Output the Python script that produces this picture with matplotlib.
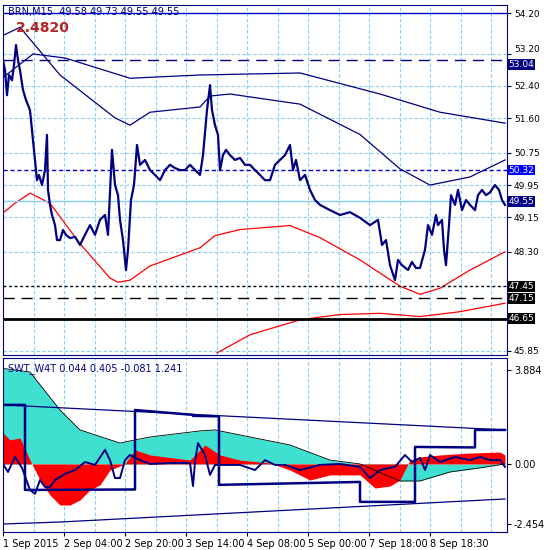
import matplotlib.pyplot as plt
import numpy as np

# bar position (chart pixels) and price
px = [3, 5, 7, 9, 12, 14, 16, 18, 20, 23, 26, 28, 30, 33, 35, 37, 39, 42, 45, 47, 48, 50, 52, 55, 57, 60,
      63, 66, 70, 75, 80, 85, 90, 95, 100, 105, 108, 112, 115, 118, 120, 123, 126, 128, 131, 134, 137, 140,
      145, 150, 155, 160, 165, 170, 175, 180, 185, 190, 200, 203, 207, 210, 212, 215, 218, 220, 223, 226,
      230, 235, 240, 245, 250, 255, 260, 265, 270, 275, 280, 285, 290, 293, 296, 300, 305, 310, 315, 320,
      330, 340, 350, 360, 370, 378, 382, 386, 390, 395, 398, 402, 408, 412, 416, 420, 425, 428, 432, 436,
      438, 442, 444, 446, 449, 451, 455, 458, 462, 466, 470, 475, 478, 482, 486, 490, 495, 499, 502, 505]
price = [53.04, 52.79, 52.17, 52.67, 52.54, 52.92, 53.41, 53.04, 52.79, 52.30, 52.05, 51.93, 51.80, 51.06,
         50.57, 50.07, 50.20, 49.95, 50.32, 51.19, 49.83, 49.46, 49.21, 48.96, 48.59, 48.59, 48.84, 48.72,
         48.64, 48.67, 48.47, 48.72, 48.96, 48.72, 49.09, 49.21, 48.72, 50.82, 49.95, 49.70, 49.09, 48.59,
         47.85, 48.35, 49.58, 49.95, 50.94, 50.45, 50.57, 50.32, 50.20, 50.07, 50.32, 50.45, 50.37, 50.32,
         50.32, 50.45, 50.20, 50.69, 51.80, 52.42, 51.80, 51.43, 51.19, 50.32, 50.69, 50.82, 50.69, 50.57,
         50.62, 50.45, 50.45, 50.32, 50.20, 50.07, 50.07, 50.45, 50.57, 50.69, 50.94, 50.32, 50.57, 50.07,
         50.20, 49.83, 49.58, 49.46, 49.33, 49.21, 49.28, 49.14, 48.96, 49.09, 48.47, 48.59, 47.97, 47.60,
         48.10, 47.97, 47.85, 48.05, 47.90, 47.90, 48.35, 48.96, 48.72, 49.21, 48.96, 49.09, 48.35, 47.97,
         48.96, 49.70, 49.46, 49.83, 49.33, 49.58, 49.46, 49.33, 49.70, 49.83, 49.70, 49.77, 49.95, 49.83,
         49.58, 49.46]

# envelope lines (navy / red)
envA_x = [0, 20, 60, 115, 130, 150, 200, 210, 230, 300, 360, 400, 430, 470, 505]
envA = [53.61, 53.85, 52.67, 51.61, 51.43, 51.75, 51.88, 52.15, 52.20, 51.95, 51.20, 50.35, 49.95, 50.15, 50.57]
envB_x = [0, 33, 65, 130, 200, 300, 380, 440, 505]
envB = [52.55, 53.19, 53.09, 52.59, 52.67, 52.72, 52.20, 51.75, 51.48]
redA_x = [0, 15, 30, 50, 80, 110, 118, 130, 150, 200, 215, 240, 290, 320, 360, 400, 420, 440, 470, 505]
redA = [49.2, 49.5, 49.75, 49.5, 48.5, 47.65, 47.55, 47.6, 47.95, 48.4, 48.7, 48.85, 48.95, 48.65, 48.1, 47.45,
        47.25, 47.4, 47.85, 48.3]
redB_x = [217, 250, 300, 340, 380, 420, 460, 505]
redB = [45.80, 46.25, 46.62, 46.75, 46.78, 46.70, 46.82, 47.03]

levels = {'53.04': 53.04, '50.32': 50.32, '49.55': 49.55, '47.45': 47.45, '47.15': 47.15, '46.65': 46.65}
price_ticks = [54.20, 53.20, 52.40, 51.60, 50.75, 49.95, 49.15, 48.30, 47.45, 46.65, 45.85]
price_tick_labels = ['54.20', '53.20', '52.40', '51.60', '50.75', '49.95', '49.15', '48.30', '', '', '45.85']

# indicator
trend_x = [0, 30, 60, 80, 120, 135, 150, 200, 215, 250, 290, 330, 360, 400, 420, 450, 480, 505]
trend = [3.95, 3.78, 2.22, 1.40, 0.86, 0.99, 1.11, 1.36, 1.40, 1.11, 0.78, 0.16, 0.0, -0.70, -0.70, -0.33, -0.16, 0.0]
red_x = [0, 10, 20, 30, 40, 50, 60, 70, 80, 90, 100, 110, 125, 135, 150, 190, 205, 220, 240, 270, 290, 310, 330,
         360, 375, 390, 400, 410, 420, 440, 470, 500, 505]
red = [1.40, 0.99, 1.07, 0.16, -0.66, -1.28, -1.69, -1.69, -1.48, -1.07, -0.86, -0.25, 0.0, 0.58, 0.37, 0.16,
       0.78, 0.37, 0.16, 0.04, -0.25, -0.66, -0.45, -0.45, -0.99, -0.91, -0.66, 0.16, 0.29, 0.37, 0.45, 0.49, 0.37]
upper_x = [3, 505]
upper = [2.43, 1.40]
lower_x = [3, 60, 505]
lower = [-2.47, -2.39, -1.44]
step_x = [3, 25, 25, 135, 135, 193, 193, 219, 219, 360, 360, 415, 415, 475, 475, 505]
step = [2.43, 2.43, -1.07, -1.05, 2.22, 2.02, 1.98, 1.96, -0.86, -0.74, -1.56, -1.56, 0.70, 0.68, 1.40, 1.40]
osc_x = [3, 8, 15, 22, 30, 35, 40, 45, 50, 55, 65, 75, 85, 95, 105, 110, 115, 120, 125, 130, 140, 150, 170, 190,
         193, 195, 198, 205, 210, 215, 240, 255, 265, 275, 285, 300, 320, 340, 360, 370, 380, 395, 405, 412, 420,
         425, 430, 440, 455, 470, 480, 490, 500, 505]
osc = [0.0, -0.33, 0.29, -0.16, -1.07, -1.23, -0.66, -0.95, -0.95, -0.66, -0.41, -0.25, 0.08, -0.04, 0.58, 0.16,
       -0.58, -0.58, 0.16, 0.37, 0.16, 0.0, 0.04, 0.04, -0.91, 0.08, 0.86, 0.37, -0.45, -0.04, -0.04, -0.25, 0.16,
       -0.04, -0.04, -0.25, -0.04, 0.0, -0.12, -0.58, -0.25, -0.12, 0.37, 0.08, 0.25, -0.25, 0.37, 0.08, 0.29, 0.16,
       0.29, 0.16, 0.16, -0.12]

dates = ['1 Sep 2015', '2 Sep 04:00', '2 Sep 20:00', '3 Sep 14:00', '4 Sep 08:00', '5 Sep 00:00',
         '7 Sep 18:00', '8 Sep 18:30']

NAVY = '#000080'
GRID = '#87CEFA'
W, H = 550, 550

fig = plt.figure(figsize=(5.5, 5.5), dpi=100)


def box(x0, y0, x1, y1):
    return [x0 / W, 1 - y1 / H, (x1 - x0) / W, (y1 - y0) / H]


vgrid = np.arange(3, 505, 30.5)

ax = fig.add_axes(box(3, 5, 507, 355))
ax.set_xlim(3, 507)
ax.set_ylim(45.75, 54.40)
for g in price_ticks:
    ax.axhline(g, color=GRID, ls=(0, (3, 2)), lw=0.8, zorder=0)
for g in vgrid:
    ax.axvline(g, color=GRID, ls=(0, (3, 2)), lw=0.8, zorder=0)
ax.axhline(54.20, color='#0000CD', lw=1)
ax.plot(envA_x, envA, color=NAVY, lw=0.9)
ax.plot(envB_x, envB, color=NAVY, lw=0.9)
ax.plot(redA_x, redA, color='red', lw=0.9)
ax.plot(redB_x, redB, color='red', lw=0.9)
ax.axhline(levels['53.04'], color=NAVY, ls=(0, (8, 5)), lw=1)
ax.axhline(levels['50.32'], color='#0000CD', ls=(0, (3, 2)), lw=1)
ax.axhline(levels['49.55'], color=GRID, lw=1)
ax.axhline(levels['47.45'], color='black', ls=(0, (2, 2)), lw=1)
ax.axhline(levels['47.15'], color='black', ls=(0, (8, 5)), lw=1)
ax.axhline(levels['46.65'], color='black', lw=2)
ax.plot(px, price, color=NAVY, lw=1.6)
ax.set_xticks([])
ax.yaxis.tick_right()
ax.set_yticks(price_ticks)
ax.set_yticklabels(price_tick_labels, fontsize=6.5)
ax.tick_params(axis='y', length=3, pad=2, colors='black')
ax.get_yticklabels()[1].set_va('bottom')
for sp in ax.spines.values():
    sp.set_color(NAVY)
box_cols = {'53.04': NAVY, '50.32': '#0000FF', '49.55': NAVY, '47.45': 'black', '47.15': 'black', '46.65': 'black'}
for k, v in levels.items():
    ax.text(1.003, v, k, transform=ax.get_yaxis_transform(), fontsize=6.5, color='white',
            va='top' if k == '53.04' else 'center', ha='left',
            bbox=dict(boxstyle='square,pad=0.1', fc=box_cols[k], ec='none'))
ax.text(0.01, 0.995, 'BRN,M15  49.58 49.73 49.55 49.55', transform=ax.transAxes, fontsize=7, va='top', color=NAVY)
ax.text(0.025, 0.955, '2.4820', transform=ax.transAxes, fontsize=10, fontweight='bold', va='top', color='#B22222')

ix = fig.add_axes(box(3, 358, 507, 532))
ix.set_xlim(3, 507)
ix.set_ylim(-2.80, 4.36)
for g in vgrid:
    ix.axvline(g, color=GRID, ls=(0, (3, 2)), lw=0.8, zorder=0)
ix.fill_between(trend_x, trend, 0, color='#40E0D0', lw=0)
ix.plot(trend_x, trend, color='black', lw=0.6)
ix.fill_between(red_x, red, 0, color='red', lw=0)
ix.plot(upper_x, upper, color=NAVY, lw=0.9)
ix.plot(lower_x, lower, color=NAVY, lw=0.9)
ix.plot(step_x, step, color=NAVY, lw=1.8)
ix.plot(osc_x, osc, color=NAVY, lw=1.4)
ix.yaxis.tick_right()
ix.set_yticks([3.884, 0.0, -2.454])
ix.set_yticklabels(['3.884', '0.00', '-2.454'], fontsize=7)
ix.tick_params(axis='y', length=3, pad=2)
ix.set_xticks([3 + 61 * i for i in range(len(dates))])
ix.set_xticklabels(dates, fontsize=7, ha='left')
ix.tick_params(axis='x', length=3, pad=2)
for sp in ix.spines.values():
    sp.set_color(NAVY)
ix.text(0.01, 0.97, 'SWT_W4T 0.044 0.405 -0.081 1.241', transform=ix.transAxes, fontsize=7, va='top', color=NAVY)

fig.savefig('out.png', dpi=100)
